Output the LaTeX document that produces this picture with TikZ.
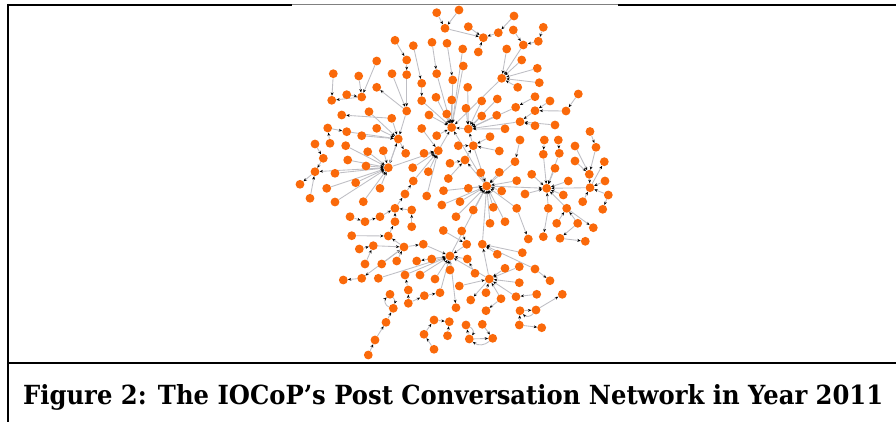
\documentclass[tikz,border=0pt]{standalone}
\usepackage{fontspec}
\newfontfamily\capfont{DejaVu Serif}
\usetikzlibrary{arrows.meta,backgrounds}
\definecolor{dotorange}{RGB}{250,105,10}
\definecolor{edgegray}{RGB}{190,190,196}
\tikzset{
  dot/.style={circle,fill=dotorange,draw=none,minimum size=8.8pt,inner sep=0pt},
  edge/.style={draw=edgegray,line width=0.85pt,-{Stealth[length=3.4pt,width=2.8pt,black]}},
  frame/.style={line width=2pt,black},
}
\begin{document}
\begin{tikzpicture}[x=1pt,y=-1pt]
\useasboundingbox (0,0) rectangle (896,422);
\begin{scope}[on background layer]
\fill[white] (0,0) rectangle (896,422);
\end{scope}
% frame
\draw[frame] (7,5) -- (292,5);
\draw[frame] (618,5) -- (896,5);
\draw[gray,line width=0.6pt] (292,4.7) -- (618,4.7);
\draw[frame] (8,4) -- (8,422);
\draw[frame] (7,363.3) -- (896,363.3);
% nodes
\foreach \i/\x/\y in {1/436.7/12.7,2/459/10,3/445/28.3,4/468.3/26.7,5/483.3/37.7,6/498.3/32.7,7/514/16,8/513.3/30,9/543.3/27.3,10/538.3/41.3,
11/523.3/45,12/395/40.3,13/413.3/45.7,14/432/42.3,15/447/43.3,16/462.7/49,17/478.3/52,18/506.7/49,19/521.7/60,20/376.7/61,
21/406.7/60,22/463.3/66,23/537.3/68.3,24/333.3/73.7,25/358.7/76,26/392/73.7,27/406.7/74.7,28/436.7/73.7,29/501.7/78.3,30/452.7/80,
31/539.3/82.7,32/421.7/83.3,33/376.7/87.3,34/467.7/87.3,35/517.7/87.3,36/346.7/94.7,37/361.7/97,38/331.7/100.3,39/436/97.3,40/421.7/100.7,
41/535/96.7,42/578.3/94,43/451.7/100,44/481.7/101,45/497.3/99,46/550/101,47/406.7/111,48/369/111.7,49/341.7/115,50/391.7/118.3,
51/429/115,52/446.7/114,53/466/108.3,54/515.7/107.3,55/535/110.7,56/566/111,57/481.7/116,58/496.7/115.3,59/520/121.7,60/327.7/128,
61/376.7/128.3,62/421.7/128.5,63/451.7/127.5,64/468.3/129,65/505/128.8,66/535/125.7,67/555/125,68/590/131.5,69/346.7/131.7,70/361.7/135.7,
72/436.7/135.7,73/398.3/139,74/315/144,75/330/143.3,76/345.7/145.7,77/367.7/151.7,78/383.3/150.7,79/405.7/153.3,80/424/153.3,
81/438.3/150.7,82/490/136.7,83/520/140,84/544.3/140,85/558.3/140,86/575/146,87/596/147.3,88/458.3/145.7,89/473.3/145.7,90/499.3/151,
91/543.3/154.3,92/559.3/153.3,93/323.3/158.3,94/347.7/160,95/366/166,96/388.3/167.7,97/412.7/167.7,98/465/160,99/515/161.7,100/555/168.3,
101/575/161,102/604.3/161.7,103/450/163.3,104/315/171.7,105/335/173.3,106/428.3/171.7,107/480.7/172.7,108/499.3/172.3,109/531.7/174.3,110/589.3/174.3,
111/448.3/178.5,112/355.7/182.7,113/380/188.3,114/413.3/181,115/516.7/180.7,116/568.3/181,117/605/181,118/300/184.3,119/326.7/188.3,120/486.7/186,
121/468.3/188.3,122/546.7/188.3,123/590/187.7,124/443.5/190.7,125/501.7/191,126/405/194,127/426.7/196,128/525/194,129/563.3/195,130/608.3/195,
131/310/198.3,132/335/202,133/363.3/201.7,134/460/201.7,135/441.8/205,136/493.3/207.3,137/516.7/208.3,138/548.3/208.3,139/566.7/208.3,140/582.7/201.7,
141/602.7/209.3,142/395/208.3,143/411.7/210,144/473.3/210,145/350/216.7,146/365/221.7,147/380/216.7,148/395/221.7,149/411.7/226.7,150/456/216.7,
151/505/221.7,152/490/223.3,153/556.7/223.3,154/577.7/223.3,155/593.3/227.7,156/443.3/230.5,157/461.7/231,158/351.7/235.7,159/388.3/236,160/528.3/239,
161/543.3/236.7,162/560/238.3,163/585.3/241.3,164/404/247,165/423.3/244.2,166/359.3/249,167/373.3/245.7,168/466.7/244.3,169/482.3/244.2,170/450/256,
171/467.3/259,172/497.3/254.3,173/522.3/252.7,174/365/264,175/381.7/264,176/396.7/261,177/416.7/261,178/431.7/259,179/450/270,180/475/273.3,
181/505/268.3,182/519.3/266.7,183/535/269,184/343.3/280,185/361.7/278.3,186/378.3/278.3,187/405/275,188/420/275,189/435/279,190/489.3/279,
191/519.3/282.7,192/550/280.7,193/459.3/286,194/486/292.7,195/516/296.7,196/536.7/294.3,197/562.3/294.3,198/390/294.3,199/408.3/290,200/424.3/295.7,
201/440/292.7,202/470.7/300,203/501/298.7,204/408.3/303.3,205/393.3/308.3,206/456/307.7,207/486/310.7,208/520/310.7,209/536/310,210/386/322.3,
211/434/320,212/449.3/321.7,213/466/325,214/482.3/324.3,215/519.3/325,216/541.7/327.7,217/375/340,218/424/334.3,219/447.5/335.7,220/469.3/339,
221/492.7/338.3,222/434/349.3,223/368.3/355}
  \node[dot] (n\i) at (\x,\y) {};
% edges
\begin{scope}[on background layer]
\foreach \a/\b in {2/3,1/3,3/5,4/5,6/5,7/6,8/11,9/10,10/11,11/29,18/29,19/29,23/29,31/29,35/29,29/63,17/5,16/63,22/63,30/63,
15/30,14/28,28/63,13/32,32/40,40/63,39/63,43/63,51/63,52/63,12/21,21/27,27/47,26/47,47/73,47/33,20/37,25/37,36/37,37/38,
24/38,50/49,50/73,48/73,61/73,62/81,72/63,70/73,69/73,60/69,75/60,34/64,44/64,45/64,53/64,57/64,58/64,65/64,41/54,54/64,
42/56,56/55,46/55,55/59,59/64,66/59,67/59,68/87,87/110,64/63,74/93,93/104,104/118,131/104,96/104,76/96,94/96,95/96,105/96,
112/96,119/96,132/96,133/96,113/96,77/96,78/96,73/96,73/79,80/81,97/81,106/81,81/63,114/81,126/114,142/126,147/142,145/146,146/147,
148/142,149/143,143/142,159/148,158/159,164/159,166/167,167/164,164/165,165/170,174/167,175/164,176/164,170/177,178/170,185/184,164/185,186/170,187/170,
199/187,188/170,204/199,210/205,217/210,223/217,204/200,200/201,201/170,211/212,222/218,218/211,171/170,172/169,173/169,179/170,180/171,181/190,
182/190,183/192,183/169,191/190,193/190,194/190,190/202,203/190,195/190,196/195,209/197,208/209,215/208,215/216,170/206,203/207,219/212,220/213,
220/221,214/221,190/170,190/169,107/120,108/120,121/120,125/120,136/120,144/120,152/120,151/120,134/120,99/120,115/120,120/122,120/98,89/120,
100/122,109/122,128/122,129/122,138/122,116/122,91/122,92/122,101/110,86/110,123/102,110/123,117/123,123/122,130/123,130/141,140/123,139/155,
85/92,84/91,83/99,82/89,90/89,88/89,89/64,98/89,103/98,111/98,139/122,153/139,154/139,138/161,154/162,162/163,137/160,137/120,135/120,
150/120,124/120,157/168,156/168,168/170,169/120,127/81,189/170,96/81,120/63,170/120,96/73}
  \draw[edge] (n\a) -- (n\b);
\draw[edge] (n205) to[bend left=60] (n198);
\draw[edge] (n198) to[bend left=30] (n205);
\draw[edge] (n209) to[bend left=50] (n208);
\draw[edge] (n213) to[bend left=50] (n220);
\draw[edge] (n221) to[bend left=40] (n220);
\end{scope}
% caption
\node[anchor=base west,inner sep=0pt] (cap) at (23,404)
  {\resizebox{860pt}{20pt}{\capfont\bfseries Figure 2: The IOCoP’s Post Conversation Network in Year 2011}};
\end{tikzpicture}
\end{document}
